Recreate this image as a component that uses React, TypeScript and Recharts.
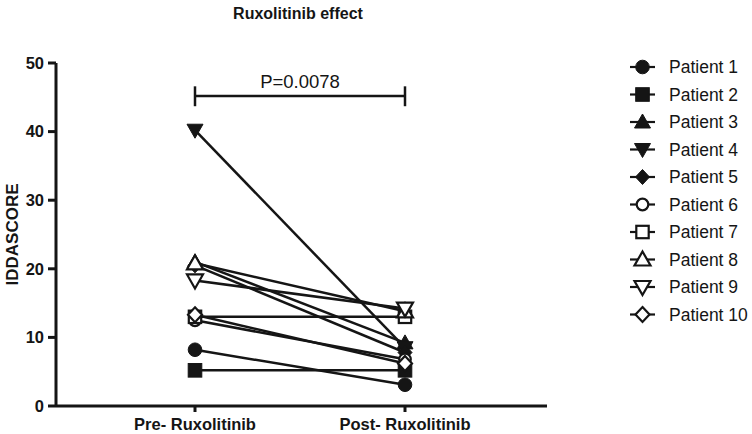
import React from 'react';
import { LineChart, Line, XAxis, YAxis, ReferenceLine } from 'recharts';

const categories = ['Pre- Ruxolitinib', 'Post- Ruxolitinib'];
const patients = [
  'Patient 1', 'Patient 2', 'Patient 3', 'Patient 4', 'Patient 5',
  'Patient 6', 'Patient 7', 'Patient 8', 'Patient 9', 'Patient 10',
];
const preValues = [8.2, 5.2, 21, 40.2, 20.5, 12.5, 13, 20.8, 18.3, 13.3];
const postValues = [3.1, 5.2, 9.2, 8.5, 7.8, 6.8, 13, 13.8, 14.2, 6.2];
const markers = [
  'circle', 'square', 'triangle', 'triangleDown', 'diamond',
  'openCircle', 'openSquare', 'openTriangle', 'openTriangleDown', 'openDiamond',
];
const yTicks = [0, 10, 20, 30, 40, 50];
const pValueLabel = 'P=0.0078';

const INK = '#151515';
const FONT = 'Arial, "Liberation Sans", sans-serif';

const data = categories.map((name, i) => {
  const row: Record<string, string | number> = { name };
  patients.forEach((_, j) => {
    row[`p${j}`] = i === 0 ? preValues[j] : postValues[j];
  });
  return row;
});

// one marker glyph, used both on the plot and in the legend
const Marker = ({ kind, cx, cy }: { kind: string; cx: number; cy: number }) => {
  const open = kind.startsWith('open');
  const fill = open ? '#fff' : INK;
  const common = { fill, stroke: INK, strokeWidth: open ? 2.2 : 1 };
  const base = open ? kind.slice(4).toLowerCase() : kind.toLowerCase();
  switch (base) {
    case 'circle':
      return <circle cx={cx} cy={cy} r={open ? 5.8 : 6.8} {...common} />;
    case 'square':
      return open
        ? <rect x={cx - 6.2} y={cy - 6.2} width={12.4} height={12.4} {...common} />
        : <rect x={cx - 6.8} y={cy - 6.8} width={13.6} height={13.6} {...common} />;
    case 'triangle':
      return <polygon points={`${cx},${cy - 8} ${cx + 8},${cy + 6} ${cx - 8},${cy + 6}`} {...common} />;
    case 'triangledown':
      return <polygon points={`${cx},${cy + 8} ${cx + 8},${cy - 6} ${cx - 8},${cy - 6}`} {...common} />;
    case 'diamond':
      return <polygon points={`${cx},${cy - 7.5} ${cx + 7},${cy} ${cx},${cy + 7.5} ${cx - 7},${cy}`} {...common} />;
    default:
      return null;
  }
};

const LegendBox = () => (
  <svg width={130} height={280}>
    {patients.map((p, i) => {
      const y = 15 + i * 27.5;
      return (
        <g key={p}>
          <line x1={8} x2={33} y1={y} y2={y} stroke={INK} strokeWidth={2.2} />
          <Marker kind={markers[i]} cx={20.5} cy={y} />
          <text x={47} y={y + 6} fontSize={17.5} fill={INK} fontFamily={FONT}>{p}</text>
        </g>
      );
    })}
  </svg>
);

export default function App() {
  return (
    <div style={{ position: 'relative', width: 752, height: 434, background: '#fff', fontFamily: FONT }}>
      <style>{'body{margin:0}'}</style>
      <div
        style={{
          position: 'absolute', left: 198, width: 200, top: 5, textAlign: 'center',
          fontWeight: 'bold', fontSize: 16, color: INK,
        }}
      >
        Ruxolitinib effect
      </div>
      <div style={{ position: 'absolute', left: 622, top: 52 }}>
        <LegendBox />
      </div>
      <LineChart width={752} height={434} data={data} margin={{ top: 63, right: 205, bottom: 0, left: 0 }}>
        <XAxis
          dataKey="name"
          scale="point"
          padding={{ left: 139, right: 142 }}
          height={28}
          tickSize={6}
          tickMargin={6}
          axisLine={{ stroke: INK, strokeWidth: 3 }}
          tickLine={{ stroke: INK, strokeWidth: 3 }}
          tick={{ fill: INK, fontSize: 16.5, fontWeight: 'bold', fontFamily: FONT }}
        />
        <YAxis
          domain={[0, 50]}
          ticks={yTicks}
          width={56}
          tickSize={8}
          tickMargin={4}
          axisLine={{ stroke: INK, strokeWidth: 3 }}
          tickLine={{ stroke: INK, strokeWidth: 3 }}
          tick={{ fill: INK, fontSize: 16.5, fontWeight: 'bold', fontFamily: FONT }}
          label={{
            value: 'IDDASCORE', angle: -90, position: 'insideLeft', offset: 12,
            style: { fill: INK, fontSize: 17, fontWeight: 'bold', fontFamily: FONT, textAnchor: 'middle' },
          }}
        />
        <ReferenceLine
          segment={[{ x: categories[0], y: 45.2 }, { x: categories[1], y: 45.2 }]}
          stroke={INK}
          strokeWidth={2.5}
          ifOverflow="visible"
          label={{ value: pValueLabel, position: 'top', offset: 8, fill: INK, fontSize: 18.5, fontFamily: FONT }}
        />
        <ReferenceLine
          segment={[{ x: categories[0], y: 43.7 }, { x: categories[0], y: 46.6 }]}
          stroke={INK}
          strokeWidth={2.5}
          ifOverflow="visible"
        />
        <ReferenceLine
          segment={[{ x: categories[1], y: 43.7 }, { x: categories[1], y: 46.6 }]}
          stroke={INK}
          strokeWidth={2.5}
          ifOverflow="visible"
        />
        {patients.map((p, j) => (
          <Line
            key={p}
            dataKey={`p${j}`}
            name={p}
            stroke={INK}
            strokeWidth={2.5}
            isAnimationActive={false}
            dot={(props: any) => (
              <Marker key={`${p}-${props.index}`} kind={markers[j]} cx={props.cx} cy={props.cy} />
            )}
            activeDot={false}
          />
        ))}
      </LineChart>
    </div>
  );
}
